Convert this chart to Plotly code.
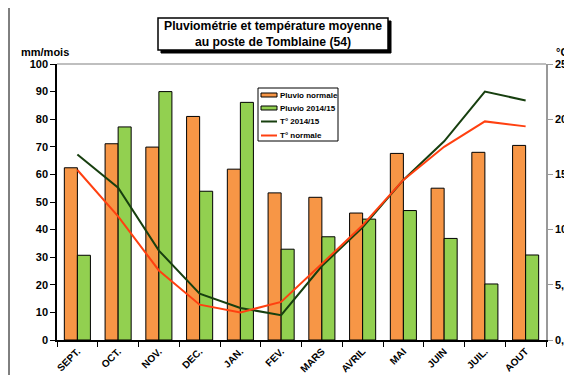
import plotly.graph_objects as go

months = ["SEPT.", "OCT.", "NOV.", "DEC.", "JAN.", "FEV.", "MARS", "AVRIL", "MAI", "JUIN", "JUIL.", "AOUT"]
pluvio_normale = [62.4, 71.1, 69.9, 81.0, 61.9, 53.3, 51.7, 46.0, 67.6, 55.0, 68.0, 70.5]
pluvio_2014 = [30.7, 77.2, 90.0, 53.9, 86.1, 32.9, 37.4, 43.8, 46.9, 36.8, 20.3, 30.8]
temp_2014 = [16.8, 13.8, 8.1, 4.2, 2.9, 2.25, 6.7, 10.2, 14.5, 18.0, 22.5, 21.7]
temp_normale = [15.4, 11.2, 6.3, 3.2, 2.5, 3.45, 6.9, 10.4, 14.5, 17.5, 19.8, 19.35]
left_ticks = list(range(0, 101, 10))
right_ticks = [0, 5, 10, 15, 20, 25]
right_labels = ["0,0", "5,0", "10,0", "15,0", "20,0", "25,0"]
series_names = ["Pluvio normale", "Pluvio 2014/15", "T° 2014/15", "T° normale"]
series_colors = ["#F79646", "#92D050", "#173F0F", "#FF4010"]

FONT = "Liberation Sans, Arial, sans-serif"

fig = go.Figure()
fig.add_trace(go.Bar(x=months, y=pluvio_normale, name=series_names[0],
                     marker=dict(color=series_colors[0], line=dict(color="black", width=1))))
fig.add_trace(go.Bar(x=months, y=pluvio_2014, name=series_names[1],
                     marker=dict(color=series_colors[1], line=dict(color="black", width=1))))
fig.add_trace(go.Scatter(x=months, y=temp_2014, name=series_names[2], yaxis="y2", mode="lines",
                         line=dict(color=series_colors[2], width=2)))
fig.add_trace(go.Scatter(x=months, y=temp_normale, name=series_names[3], yaxis="y2", mode="lines",
                         line=dict(color=series_colors[3], width=2)))

# the page body has an 8px margin: work in page pixels and shift into figure pixels
OFF = 8
W, H = 572, 375
PL, PR, PT, PB = 57, 546, 64, 340          # plot area in page pixels
L, T = PL - OFF, PT - OFF
R = W - (PR - OFF)
B = H - (PB - OFF)
pw, ph = PR - PL, PB - PT

def px(x):
    return (x - PL) / pw

def py(y):
    return (PB - y) / ph

shapes = [
    # outer frame
    dict(type="rect", xref="paper", yref="paper", x0=px(9), x1=px(600), y0=py(400), y1=py(7),
         line=dict(color="black", width=1), fillcolor="rgba(0,0,0,0)", layer="below"),
    # title shadow
    dict(type="rect", xref="paper", yref="paper", x0=px(161), x1=px(391), y0=py(53), y1=py(21),
         line=dict(color="black", width=1), fillcolor="black"),
    # title box
    dict(type="rect", xref="paper", yref="paper", x0=px(158), x1=px(388), y0=py(50), y1=py(18),
         line=dict(color="black", width=1.5), fillcolor="white"),
    # top border of plot area
    dict(type="line", xref="paper", yref="paper", x0=0, x1=1, y0=1, y1=1,
         line=dict(color="#AAAAAA", width=1.5)),
    # legend box
    dict(type="rect", xref="paper", yref="paper", x0=px(258), x1=px(338), y0=py(141), y1=py(88),
         line=dict(color="black", width=1), fillcolor="white"),
]

annotations = [
    dict(text="<b>Pluviométrie et température moyenne<br>au poste de Tomblaine (54)</b>",
         xref="paper", yref="paper", x=px(273), y=py(34), showarrow=False,
         font=dict(family=FONT, size=12.2, color="black"), xanchor="center", yanchor="middle"),
    dict(text="<b>mm/mois</b>", xref="paper", yref="paper", x=px(19), y=py(52),
         showarrow=False, xanchor="left", yanchor="middle", font=dict(family=FONT, size=11, color="black")),
    dict(text="<b>°C</b>", xref="paper", yref="paper", x=px(554), y=py(52),
         showarrow=False, xanchor="left", yanchor="middle", font=dict(family=FONT, size=11, color="black")),
]

# compact legend
item_y = [95, 108, 121.5, 135.5]
for i, (name, col) in enumerate(zip(series_names, series_colors)):
    yy = item_y[i]
    if i < 2:
        shapes.append(dict(type="rect", xref="paper", yref="paper", x0=px(261), x1=px(277),
                           y0=py(yy + 2), y1=py(yy - 2), fillcolor=col,
                           line=dict(color="black", width=1)))
    else:
        shapes.append(dict(type="line", xref="paper", yref="paper", x0=px(261), x1=px(277),
                           y0=py(yy), y1=py(yy), line=dict(color=col, width=2)))
    annotations.append(dict(text=f"<b>{name}</b>", xref="paper", yref="paper", x=px(278), y=py(yy),
                            showarrow=False, xanchor="left", yanchor="middle",
                            font=dict(family=FONT, size=8, color="black")))

fig.update_layout(
    width=W, height=H,
    margin=dict(l=L, r=R, t=T, b=B, pad=0, autoexpand=False),
    paper_bgcolor="white", plot_bgcolor="white",
    font=dict(family=FONT, color="black"),
    barmode="group", bargap=0.36, bargroupgap=0,
    showlegend=False,
    xaxis=dict(showline=True, linecolor="black", linewidth=1.5, ticks="outside",
               tickson="boundaries", ticklen=5, tickcolor="black", tickangle=-45,
               tickfont=dict(family=FONT, size=10, color="black", weight="bold"),
               showgrid=False, automargin=False),
    yaxis=dict(range=[0, 100], tickvals=left_ticks, showline=True, linecolor="black", linewidth=1.5,
               ticks="outside", ticklen=5, tickcolor="black", showgrid=False, zeroline=False,
               automargin=False,
               tickfont=dict(family=FONT, size=11, color="black", weight="bold")),
    yaxis2=dict(range=[0, 25], overlaying="y", side="right", tickvals=right_ticks, ticktext=right_labels,
                showline=True, linecolor="#999999", linewidth=1.5, ticks="outside", ticklen=5,
                tickcolor="#999999", showgrid=False, zeroline=False, automargin=False,
                tickfont=dict(family=FONT, size=11, color="black", weight="bold")),
    shapes=shapes,
    annotations=annotations,
)

fig.write_html("out.html")
